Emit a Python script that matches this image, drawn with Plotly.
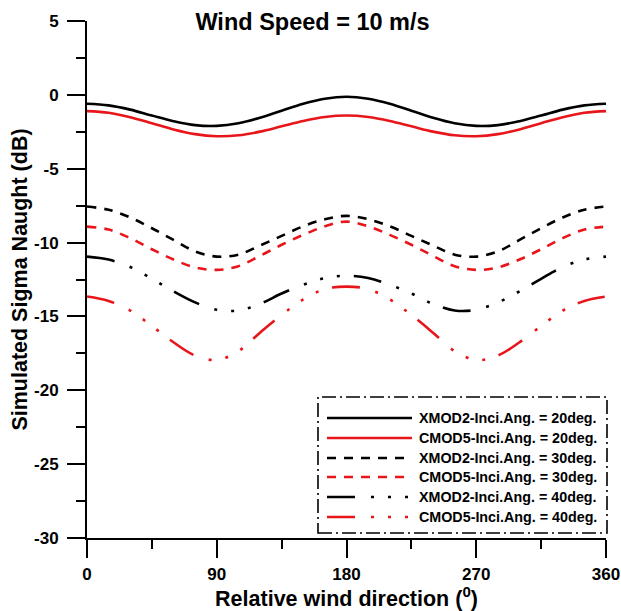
import plotly.graph_objects as go

# ---------------- data ----------------
wind_dir = [0, 15, 30, 45, 60, 75, 90, 105, 120, 135, 150, 165, 180,
            195, 210, 225, 240, 255, 270, 285, 300, 315, 330, 345, 360]

xmod2_20 = [-0.60, -0.71, -1.00, -1.40, -1.78, -2.05, -2.10, -1.92, -1.55, -1.07, -0.60, -0.26, -0.13,
            -0.26, -0.60, -1.07, -1.55, -1.92, -2.10, -2.05, -1.78, -1.40, -1.00, -0.71, -0.60]
cmod5_20 = [-1.10, -1.21, -1.51, -1.92, -2.34, -2.66, -2.80, -2.74, -2.49, -2.13, -1.77, -1.50, -1.40,
            -1.50, -1.77, -2.13, -2.49, -2.74, -2.80, -2.66, -2.34, -1.92, -1.51, -1.21, -1.10]
xmod2_30 = [-7.56, -7.78, -8.30, -9.03, -9.82, -10.60, -10.95, -10.82, -10.20, -9.55, -8.90, -8.42, -8.19,
            -8.42, -8.90, -9.55, -10.20, -10.82, -10.95, -10.60, -9.82, -9.03, -8.30, -7.78, -7.56]
cmod5_30 = [-8.92, -9.12, -9.70, -10.45, -11.15, -11.68, -11.85, -11.60, -10.90, -10.15, -9.48, -8.90, -8.58,
            -8.90, -9.48, -10.15, -10.90, -11.60, -11.85, -11.68, -11.15, -10.45, -9.70, -9.12, -8.92]
xmod2_40 = [-10.95, -11.15, -11.65, -12.45, -13.30, -14.05, -14.55, -14.60, -14.15, -13.45, -12.85, -12.40, -12.25,
            -12.40, -12.85, -13.45, -14.15, -14.60, -14.55, -14.05, -13.30, -12.45, -11.65, -11.15, -10.95]
cmod5_40 = [-13.65, -13.95, -14.60, -15.65, -16.75, -17.65, -17.95, -17.35, -16.10, -14.90, -13.85, -13.15, -12.98,
            -13.15, -13.85, -14.90, -16.10, -17.35, -17.95, -17.65, -16.75, -15.65, -14.60, -13.95, -13.65]

series_names = ["XMOD2-Inci.Ang. = 20deg.", "CMOD5-Inci.Ang. = 20deg.",
                "XMOD2-Inci.Ang. = 30deg.", "CMOD5-Inci.Ang. = 30deg.",
                "XMOD2-Inci.Ang. = 40deg.", "CMOD5-Inci.Ang. = 40deg."]
series_values = [xmod2_20, cmod5_20, xmod2_30, cmod5_30, xmod2_40, cmod5_40]

x_ticks = [0, 90, 180, 270, 360]
y_ticks = [5, 0, -5, -10, -15, -20, -25, -30]

# ---------------- styles ----------------
BLACK = "#000000"
RED = "#e8161b"
DASH = "9px,8px"
DASH_DOT3 = "28px,16px,3px,14px,3px,14px,3px,14px"
styles = [(BLACK, "solid"), (RED, "solid"), (BLACK, DASH), (RED, DASH),
          (BLACK, DASH_DOT3), (RED, DASH_DOT3)]
FONT = "Liberation Sans, Arial, Helvetica, sans-serif"

fig = go.Figure()
for name, vals, (col, dash) in zip(series_names, series_values, styles):
    fig.add_trace(go.Scatter(x=wind_dir, y=vals, mode="lines", name=name,
                             line=dict(color=col, width=2.6, dash=dash, shape="spline", smoothing=1.0),
                             showlegend=False))

# ---------------- custom legend (dash-dot framed box) ----------------
W, H = 621, 611
ml, mr, mt, mb = 87, 15, 21, 73
pw, ph = W - ml - mr, H - mt - mb

def px(xp):
    return (xp - ml) / pw

def py(yp):
    return (H - mb - yp) / ph

fig.add_shape(type="rect", xref="paper", yref="paper",
              x0=px(318), x1=px(607), y0=py(533), y1=py(397),
              line=dict(color=BLACK, width=1.6, dash="14px,4px,2px,4px"),
              fillcolor="rgba(0,0,0,0)")
row_y = [418, 438, 458, 477, 497, 517]
for yy, name, (col, dash) in zip(row_y, series_names, styles):
    fig.add_shape(type="line", xref="paper", yref="paper",
                  x0=px(327), x1=px(412), y0=py(yy), y1=py(yy),
                  line=dict(color=col, width=2.6, dash=dash))
    fig.add_annotation(xref="paper", yref="paper", x=px(417), y=py(yy),
                       xanchor="left", yanchor="middle", showarrow=False,
                       text=name, font=dict(family=FONT, size=14.3, color=BLACK, weight="bold"))

axis_common = dict(showline=True, linecolor=BLACK, linewidth=2, mirror=False,
                   ticks="outside", ticklen=18, tickwidth=2, tickcolor=BLACK,
                   showgrid=False, zeroline=False, automargin=False,
                   tickfont=dict(family=FONT, size=17, color=BLACK, weight="bold"))

fig.update_layout(
    width=W, height=H,
    margin=dict(l=ml, r=mr, t=mt, b=mb),
    paper_bgcolor="white", plot_bgcolor="white",
    title=dict(text="Wind Speed = 10 m/s", x=312.5 / W, xanchor="center",
               y=1 - 22 / H, yanchor="middle",
               font=dict(family=FONT, size=23.5, color=BLACK, weight="bold")),
    xaxis=dict(range=[0, 360], tickvals=x_ticks, ticktext=[str(v) for v in x_ticks],
               minor=dict(dtick=45, tick0=0, ticks="outside", ticklen=9, tickwidth=2, tickcolor=BLACK),
               ticklabelstandoff=2,
               title=dict(text="Relative wind direction (<sup>0</sup>)", standoff=2,
                          font=dict(family=FONT, size=21.5, color=BLACK, weight="bold")),
               **axis_common),
    yaxis=dict(range=[-30, 5], tickvals=y_ticks, ticktext=[str(v) for v in y_ticks],
               minor=dict(dtick=2.5, tick0=0, ticks="outside", ticklen=9, tickwidth=2, tickcolor=BLACK),
               ticklabelstandoff=5,
               title=dict(text="Simulated Sigma Naught (dB)", standoff=0,
                          font=dict(family=FONT, size=21.5, color=BLACK, weight="bold")),
               **axis_common),
    showlegend=False,
)

fig.write_html("out.html")
